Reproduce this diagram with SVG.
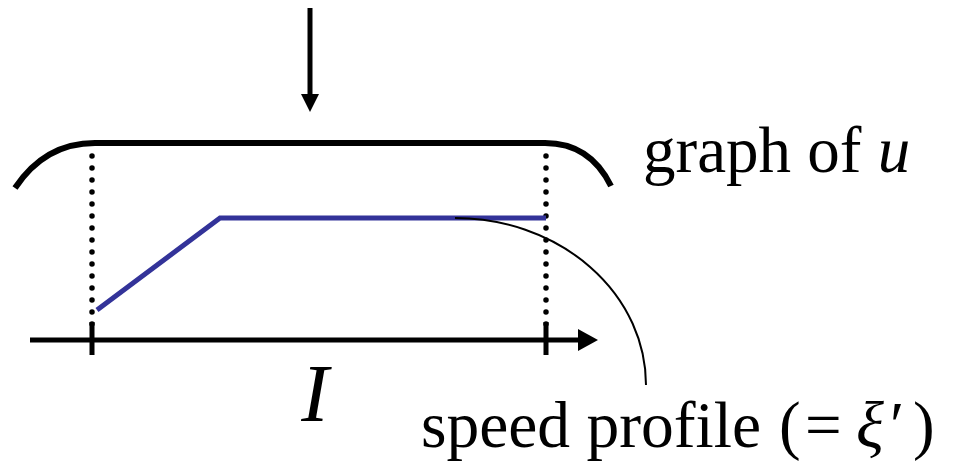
<svg xmlns="http://www.w3.org/2000/svg" width="957" height="465" viewBox="0 0 957 465">
<style>
.txt{font-family:"Liberation Serif","Times New Roman",serif;fill:#000}
.thick{fill:none;stroke:#000;stroke-width:6}
.dots{fill:none;stroke:#000;stroke-width:5.5;stroke-linecap:round;stroke-dasharray:0 12}
</style>
<rect width="957" height="465" fill="#fff"/>
<g id="graph-u">
<path class="thick" d="M15,188 Q45,143 95,143 L545,143 Q590,143 611,186"/>
</g>
<g id="guides">
<path class="dots" d="M92,156 V330 M546,156 V330"/>
</g>
<g id="speed-profile">
<path d="M97,310 L220,218 L546,218" fill="none" stroke="#333399" stroke-width="5"/>
</g>
<g id="axis">
<path d="M30,340 H580" stroke="#000" stroke-width="5" fill="none"/>
<path d="M578,329 L598,340 L578,351 Z" fill="#000"/>
<path d="M92,322 V355 M546,322 V355" stroke="#000" stroke-width="5"/>
</g>
<g id="connectors">
<path d="M310,8 V94" stroke="#000" stroke-width="5" fill="none"/>
<path d="M301,94 L319,94 L310,112 Z" fill="#000"/>
<path d="M455,218 A191 167 0 0 1 646 385" fill="none" stroke="#000" stroke-width="2"/>
</g>
<g id="labels">
<text class="txt" x="315" y="421" font-size="82" font-style="italic" text-anchor="middle">I</text>
<text class="txt" x="643" y="172" font-size="65">graph of <tspan font-style="italic">u</tspan></text>
<text class="txt" font-size="65" y="447"><tspan x="421" textLength="340" lengthAdjust="spacingAndGlyphs">speed profile</tspan><tspan x="779">(</tspan><tspan x="805">=</tspan><tspan x="856" font-style="italic">ξ</tspan><tspan x="890">′</tspan><tspan x="913">)</tspan></text>
</g>
</svg>
